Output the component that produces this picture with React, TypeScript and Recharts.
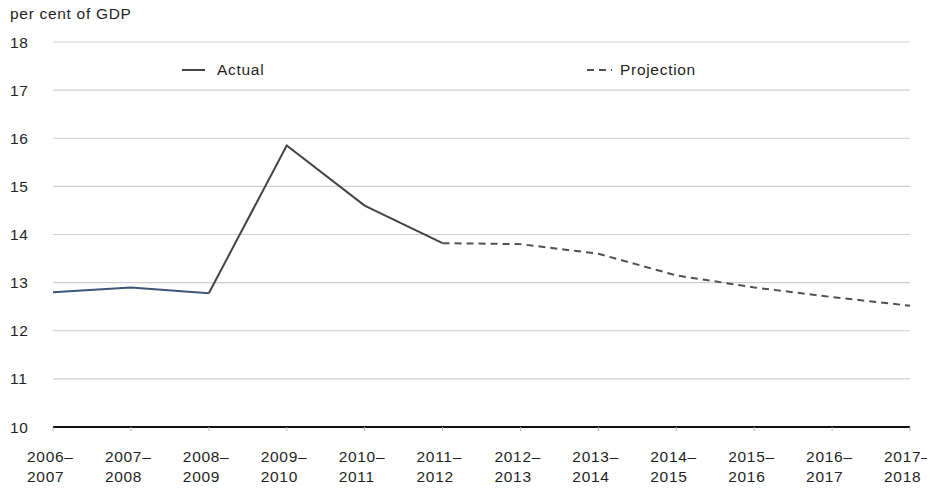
import { CartesianGrid, Line, LineChart, XAxis, YAxis } from "recharts";

const YEARS = [
  "2006–2007",
  "2007–2008",
  "2008–2009",
  "2009–2010",
  "2010–2011",
  "2011–2012",
  "2012–2013",
  "2013–2014",
  "2014–2015",
  "2015–2016",
  "2016–2017",
  "2017–2018",
];
// per cent of GDP
const ACTUAL = [12.8, 12.9, 12.78, 15.85, 14.6, 13.82, null, null, null, null, null, null];
const PROJECTION = [null, null, null, null, null, 13.82, 13.8, 13.6, 13.15, 12.9, 12.7, 12.52];
const Y_TICKS = [10, 11, 12, 13, 14, 15, 16, 17, 18];

const FONT = '"Liberation Sans", Arial, Helvetica, sans-serif';
const TEXT = "#1f1f1f";
const EARLY_COLOR = "#3b5677"; // first actual stretch reads bluish
const ACTUAL_COLOR = "#444444";
const PROJ_COLOR = "#505050";

// first three actual points drawn in blue, the rest grey
const data = YEARS.map((year, i) => ({
  year,
  early: i <= 2 ? ACTUAL[i] : null,
  actual: i >= 2 ? ACTUAL[i] : null,
  projection: PROJECTION[i],
}));

const textStyle = { fontFamily: FONT, fontSize: 15.5, letterSpacing: 0.7, fill: TEXT };
const htmlText = { fontFamily: FONT, fontSize: 15.5, letterSpacing: 0.7, color: TEXT, whiteSpace: "nowrap" as const };

function YearTick({ x, y, payload }: any) {
  const [a, b] = String(payload.value).split("–");
  return (
    <text x={x - 26} y={y} textAnchor="start" style={textStyle}>
      <tspan x={x - 26} dy={29}>{a}–</tspan>
      <tspan x={x - 26} dy={20}>{b}</tspan>
    </text>
  );
}

function ValueTick({ y, payload }: any) {
  return (
    <text x={2} y={y} dy="0.355em" textAnchor="start" style={textStyle}>
      {payload.value}
    </text>
  );
}

function LegendBox() {
  const item = { ...htmlText, position: "absolute" as const, display: "flex", alignItems: "center" };
  return (
    <>
      <div style={{ ...item, left: 174, top: 53 }}>
        <svg width={24} height={10} style={{ marginRight: 11 }}>
          <line x1={0} y1={5} x2={23} y2={5} stroke={ACTUAL_COLOR} strokeWidth={2} />
        </svg>
        Actual
      </div>
      <div style={{ ...item, left: 579, top: 53 }}>
        <svg width={25} height={10} style={{ marginRight: 8 }}>
          <line x1={0} y1={5} x2={25} y2={5} stroke={PROJ_COLOR} strokeWidth={2} strokeDasharray="7 5" />
        </svg>
        Projection
      </div>
    </>
  );
}

export default function App() {
  return (
    <div style={{ position: "relative", width: 927, height: 478 }}>
      <LineChart width={927} height={478} data={data} margin={{ top: 34, right: 25, left: 0, bottom: 0 }}>
        <CartesianGrid horizontal vertical={false} stroke="#cfcfcf" strokeWidth={1.2} />
        <XAxis
          dataKey="year"
          height={59}
          interval={0}
          padding={{ left: 0, right: 0 }}
          axisLine={{ stroke: "#111", strokeWidth: 2 }}
          tickLine={{ stroke: "#b5b5b5" }}
          tickSize={4}
          tickMargin={2}
          tick={<YearTick />}
        />
        <YAxis
          width={45}
          domain={[10, 18]}
          ticks={Y_TICKS}
          axisLine={false}
          tickLine={false}
          tick={<ValueTick />}
        />
        <Line dataKey="early" stroke={EARLY_COLOR} strokeWidth={2} dot={false} isAnimationActive={false} />
        <Line dataKey="actual" stroke={ACTUAL_COLOR} strokeWidth={2} dot={false} isAnimationActive={false} />
        <Line
          dataKey="projection"
          stroke={PROJ_COLOR}
          strokeWidth={2}
          strokeDasharray="7 5"
          dot={false}
          isAnimationActive={false}
        />
      </LineChart>
      <div style={{ ...htmlText, position: "absolute", left: 2, top: -3 }}>per cent of GDP</div>
      <LegendBox />
    </div>
  );
}
